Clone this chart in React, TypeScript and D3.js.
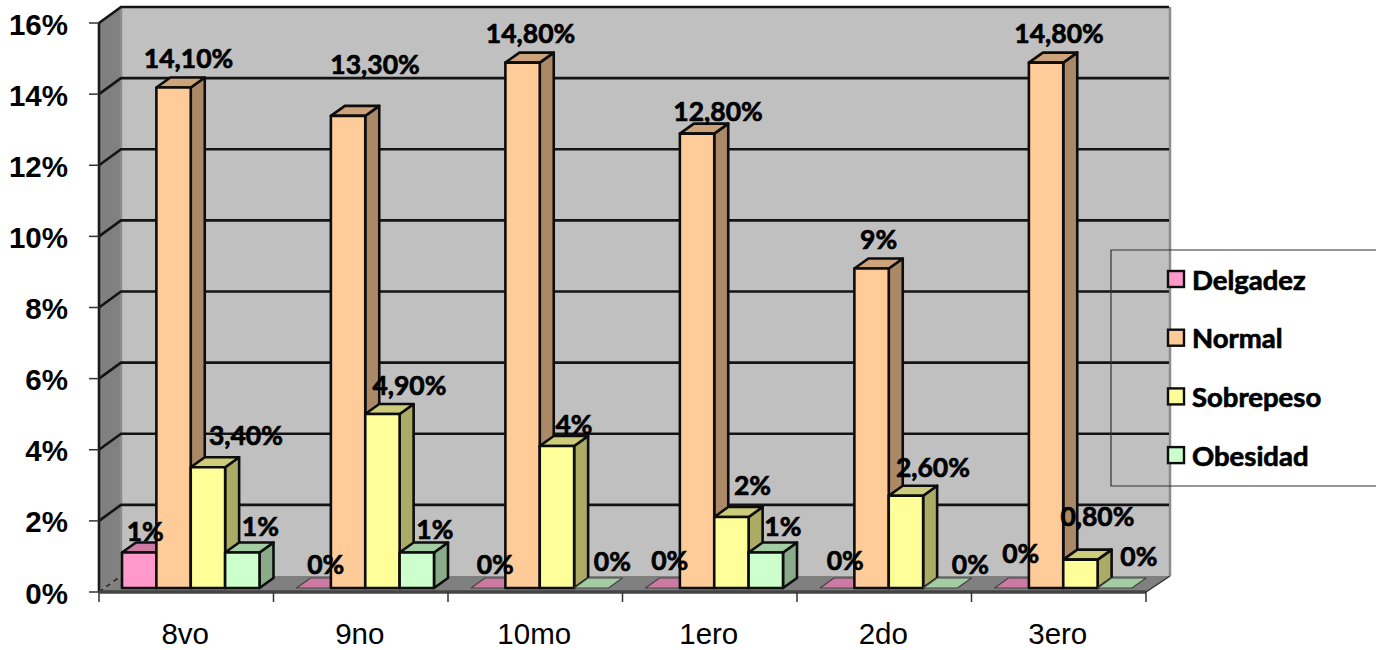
import React from "react";
import * as d3 from "d3";

const categories = ["8vo", "9no", "10mo", "1ero", "2do", "3ero"];
const seriesNames = ["Delgadez", "Normal", "Sobrepeso", "Obesidad"];
const delgadez = [1, 0, 0, 0, 0, 0];
const normal = [14.1, 13.3, 14.8, 12.8, 9, 14.8];
const sobrepeso = [3.4, 4.9, 4, 2, 2.6, 0.8];
const obesidad = [1, 1, 0, 1, 0, 0];
const delgadezLabels = ["1%", "0%", "0%", "0%", "0%", "0%"];
const normalLabels = ["14,10%", "13,30%", "14,80%", "12,80%", "9%", "14,80%"];
const sobrepesoLabels = ["3,40%", "4,90%", "4%", "2%", "2,60%", "0,80%"];
const obesidadLabels = ["1%", "1%", "0%", "1%", "0%", "0%"];
const yTicks = [0, 2, 4, 6, 8, 10, 12, 14, 16];

const seriesValues = [delgadez, normal, sobrepeso, obesidad];
const seriesLabels = [delgadezLabels, normalLabels, sobrepesoLabels, obesidadLabels];

// Per-series colours: front face, top face, side face.
const frontColors = ["#ff99cc", "#ffcc99", "#ffff99", "#ccffcc"];
const topColors = ["#cc7aa3", "#cca37a", "#cccc7a", "#a3cca3"];
const sideColors = ["#ab6688", "#ab8966", "#abab66", "#89ab89"];

// Label nudges from the bar's front-top centre, [dx, dy] per series and category.
const labelNudges: [number, number][][] = [
  [[6, -22], [12, -24], [7, -24], [7, -28], [8, -28], [9, -35]],
  [[15, -29], [27, -52], [8, -30], [21, -23], [7, -30], [13, -30]],
  [[38, -32], [27, -29], [17, -22], [21, -32], [27, -29], [17, -44]],
  [[18, -27], [18, -24], [21, -27], [17, -27], [30, -24], [24, -32]],
];

const WIDTH = 1380;
const HEIGHT = 650;
const DX = 22; // horizontal offset of the back wall
const DY = 16; // vertical offset of the back wall
const BAR_DX = 14;
const BAR_DY = 10;
const BASE_FRONT = 592;
const BAR_BASE = 588;
const LEFT = 99;
const RIGHT = 1146;
const INK = "#0d0d0d";
const HEAVY_FONT = "Lato, 'Open Sans', sans-serif";

const yFront = d3.scaleLinear().domain([0, 16]).range([BASE_FRONT, 23]);
const yBar = d3.scaleLinear().domain([0, 16]).range([BAR_BASE, BAR_BASE - 568]);
const xGroup = d3.scaleBand().domain(categories).range([LEFT, RIGHT]);
const xBar = d3.scaleBand().domain(seriesNames).range([23, 160.5]);

const pts = (...p: [number, number][]) => p.map((q) => q.join(",")).join(" ");

function Bar({ x, w, top, color }: { x: number; w: number; top: number; color: number }) {
  const hasHeight = BAR_BASE - top > 0.5;
  return (
    <g stroke={INK} strokeWidth={2.6} strokeLinejoin="round">
      {hasHeight && (
        <polygon
          points={pts([x + w, top], [x + w + BAR_DX, top - BAR_DY], [x + w + BAR_DX, BAR_BASE - BAR_DY], [x + w, BAR_BASE])}
          fill={sideColors[color]}
        />
      )}
      <polygon
        points={pts([x, top], [x + BAR_DX, top - BAR_DY], [x + w + BAR_DX, top - BAR_DY], [x + w, top])}
        fill={topColors[color]}
        strokeWidth={hasHeight ? 2.6 : 1.2}
        stroke={hasHeight ? INK : "#444"}
      />
      {hasHeight && <rect x={x} y={top} width={w} height={BAR_BASE - top} fill={frontColors[color]} />}
    </g>
  );
}

export default function App() {
  const barW = xBar.bandwidth();
  return (
    <svg
      width={WIDTH}
      height={HEIGHT}
      viewBox={`0 0 ${WIDTH} ${HEIGHT}`}
      style={{ position: "absolute", left: 0, top: 0, background: "#fff" }}
    >
      {/* Chart walls and floor */}
      <polygon
        points={pts([LEFT + DX, BASE_FRONT - DY], [RIGHT + DX + 2, BASE_FRONT - DY], [RIGHT + DX + 2, yFront(16) - DY], [LEFT + DX, yFront(16) - DY])}
        fill="#c0c0c0"
      />
      <polygon
        points={pts([LEFT, BASE_FRONT], [LEFT + DX, BASE_FRONT - DY], [LEFT + DX, yFront(16) - DY], [LEFT, yFront(16)])}
        fill="#808080"
      />
      <polygon
        points={pts([LEFT, BASE_FRONT], [LEFT + DX, BASE_FRONT - DY], [RIGHT + DX + 2, BASE_FRONT - DY], [RIGHT, BASE_FRONT])}
        fill="#808080"
      />
      <line x1={RIGHT + DX + 2} x2={RIGHT + DX + 2} y1={yFront(16) - DY} y2={BASE_FRONT - DY} stroke="#8c8c8c" strokeWidth={2.5} />
      <line x1={LEFT + DX} x2={LEFT + DX} y1={yFront(16) - DY} y2={BASE_FRONT - DY} stroke="#8c8c8c" strokeWidth={2.5} />

      {/* Gridlines wrap from the side wall onto the back wall */}
      {yTicks.filter((t) => t > 0).map((t) => (
        <polyline
          key={t}
          points={pts([LEFT, yFront(t)], [LEFT + DX, yFront(t) - DY], [RIGHT + DX + 1, yFront(t) - DY])}
          fill="none"
          stroke="#141414"
          strokeWidth={2.6}
        />
      ))}
      <line x1={LEFT} y1={BASE_FRONT} x2={LEFT + DX} y2={BASE_FRONT - DY} stroke="#222" strokeWidth={1.5} strokeDasharray="5 4" />
      <line x1={RIGHT} y1={BASE_FRONT} x2={RIGHT + DX + 2} y2={BASE_FRONT - DY} stroke="#333" strokeWidth={1.5} />

      {/* Axis lines and ticks */}
      <line x1={LEFT} x2={LEFT} y1={yFront(16)} y2={BASE_FRONT} stroke="#1a1a1a" strokeWidth={2.6} />
      <line x1={LEFT} x2={RIGHT} y1={BASE_FRONT} y2={BASE_FRONT} stroke="#444" strokeWidth={3.5} />
      {yTicks.map((t) => (
        <line key={t} x1={89} x2={LEFT} y1={yFront(t)} y2={yFront(t)} stroke="#333" strokeWidth={1.5} />
      ))}
      {d3.range(categories.length + 1).map((i) => {
        const x = LEFT + i * xGroup.step();
        return <line key={i} x1={x} x2={x} y1={BASE_FRONT} y2={602} stroke="#333" strokeWidth={1.5} />;
      })}

      {/* Bars, drawn series by series inside each category */}
      {categories.map((c, i) => (
        <g key={c}>
          {seriesNames.map((s, j) => (
            <Bar key={s} x={xGroup(c)! + xBar(s)!} w={barW} top={yBar(seriesValues[j][i])} color={j} />
          ))}
        </g>
      ))}

      {/* Legend frame */}
      <path d="M1376 250H1111V486H1376" fill="none" stroke="#333" strokeWidth={1.2} />

      {/* Legend entries */}
      {seriesNames.map((s, j) => (
        <g key={s}>
          <rect x={1168} y={271 + j * 58.7} width={16} height={16} fill={frontColors[j]} stroke={INK} strokeWidth={2.4} />
          <text
            x={1192}
            y={279 + j * 58.7}
            dominantBaseline="central"
            fontFamily={HEAVY_FONT}
            fontWeight={700}
            fontSize={27.5}
            fill="#000"
            stroke="#000"
            strokeWidth={0.7}
          >
            {s}
          </text>
        </g>
      ))}

      {/* Value labels */}
      {categories.map((c, i) =>
        seriesNames.map((s, j) => {
          const cx = xGroup(c)! + xBar(s)! + barW / 2;
          const [dx, dy] = labelNudges[j][i];
          return (
            <text
              key={s}
              x={cx + dx}
              y={yBar(seriesValues[j][i]) + dy}
              textAnchor="middle"
              dominantBaseline="central"
              fontFamily={HEAVY_FONT}
              fontWeight={700}
              fontSize={26.5}
              fill="#000"
              stroke="#000"
              strokeWidth={0.7}
            >
              {seriesLabels[j][i]}
            </text>
          );
        })
      )}

      {/* Axis labels */}
      {yTicks.map((t) => (
        <text
          key={t}
          x={68}
          y={yFront(t) + 1}
          textAnchor="end"
          dominantBaseline="central"
          fontFamily="'Liberation Sans', Arial, sans-serif"
          fontWeight={700}
          fontSize={29.5}
          fill="#000"
        >
          {t}%
        </text>
      ))}
      {categories.map((c) => (
        <text
          key={c}
          x={xGroup(c)! + xGroup.bandwidth() / 2 - 1}
          y={633}
          textAnchor="middle"
          dominantBaseline="central"
          fontFamily="'Liberation Sans', Arial, sans-serif"
          fontSize={29.5}
          fill="#000"
        >
          {c}
        </text>
      ))}
    </svg>
  );
}
